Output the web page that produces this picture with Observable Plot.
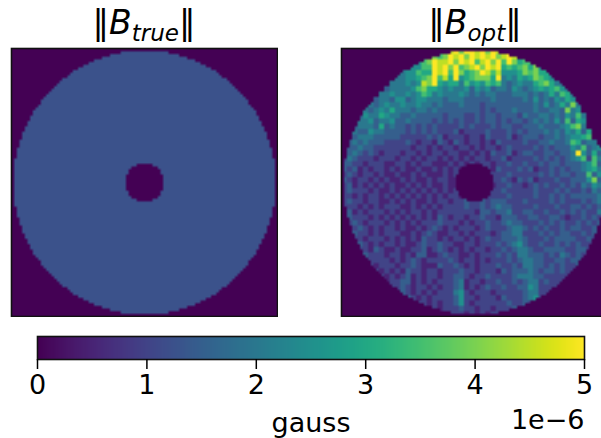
<!DOCTYPE html>
<html><head><meta charset="utf-8">
<script src="https://cdn.jsdelivr.net/npm/d3@7"></script>
<script src="https://cdn.jsdelivr.net/npm/@observablehq/plot@0.6"></script>
<style>
html,body{margin:0;padding:0;background:#fff}
#c{position:relative;width:601px;height:438px;overflow:hidden;font-family:"DejaVu Sans"}
#c>div{position:absolute}
#c svg{display:block;max-width:none}
.t{font-size:33px;line-height:36px;top:5px;width:260px;text-align:center;color:#000;white-space:nowrap}
.t sub{font-size:23px;font-style:italic;line-height:0;vertical-align:-7px}
</style></head><body><div id="c"></div>
<script>
// half-widths (grid cells) of the disc for the upper half of the 100-row image
const discHalfWidth=[0,9,13,16,19,21,23,25,27,28,29,31,32,33,34,35,36,37,38,39,39,40,41,42,42,43,43,44,44,45,45,46,46,46,47,47,47,48,48,48,48,49,49,49,49,49,49,49,49,49];
// half-widths of the central hole for the rows just above the middle (rows 43..49)
const holeHalfWidth=[3,5,6,6,7,7,7];
const trueLevel=1.25e-6;
const colorTicks=[0,1,2,3,4,5];
const levelStep=0.5e-6;
// |B_opt| read in 2x2 blocks of the image; digit = 0.5e-6 steps, a = 5e-6
const optRows=[
"0000000000 0000000000 9a8aa9a8a9 0000000000 0000000000",
"0000000000 0000006878 a9a8a9a9a8 9a97860000 0000000000",
"0000000000 0000578a99 a8a9a79a8a 7a86777000 0000000000",
"0000000000 0005577a9a 8a789a8a9a 6767868500 0000000000",
"0000000000 0455766a9a 7a8678a979 5556878660 0000000000",
"0000000000 4455678a79 6a5678886a 4546568765 0000000000",
"0000000004 4454598a65 6647565767 4345446786 4400000000",
"0000000034 4445786654 5445354534 4354345656 7540000000",
"0000000445 4454576454 4454343443 3344434346 4764000000",
"0000003443 5534554443 4443333343 3333435343 5465000000",
"0000043454 4544544343 3343332333 3333334353 4648400000",
"0000434546 4443443433 3333332323 3343334334 4384500000",
"0003544654 4334333332 3332232332 3332433443 4354740000",
"0004453445 3343333232 3232232332 3233234343 5373650000",
"0034443634 3323232322 2232322232 3322333433 3457840000",
"0043354433 3323232322 2312222322 2323233343 4354636000",
"0334443333 3222223231 2221221322 2312333233 4345567000",
"0343433322 2232122132 1321221213 2222322334 3347634400",
"0334332222 2221221212 2122121221 2322223232 3335473450",
"2343232122 2122121221 2211212132 2312332233 2334a53630",
"2432221222 1221212212 1212122122 3122223232 3234572740",
"3322122211 2212122111 2121212212 2322322323 3233345730",
"3231212212 1211211212 1211212213 2223231223 2323345640",
"2321221211 2112121112 1212122222 2322222323 2332337350",
"3212212121 1212112122 1100002222 3213231222 3223335830",
"2312121212 1121212112 1100002312 2322123232 2323243540",
"2322212112 1212121212 1200002222 3222223222 3232232430",
"2212122121 2121212121 2210013222 2322223223 2323333340",
"2322122112 1212112122 1223223233 3222322223 2322232340",
"2221212122 2112121212 2223223234 3322223222 3223323230",
"2312122212 1212212122 2222213323 3422332232 2323232240",
"2322212121 2121212132 1221223221 3332233223 3212232322",
"2232122212 1212122232 2212122322 3433222323 2322323232",
"2223212122 1211212321 2122212322 2344323232 2323322322",
"2232212122 2112123211 2212122212 3344222323 2332232322",
"2122122212 1212132212 1221212322 3334322232 3333223232",
"2123212122 1211232232 2112212223 2345322322 3232322322",
"2122213211 2112231232 1212122122 3234432233 3322332322",
"2212322212 2121331123 2211212223 2324433323 2432322322",
"2221222221 2123212222 3212212122 2323443322 3323323222",
"2222221222 1223211132 2321212223 2232443323 2322322322",
"2222222121 2132212212 2232212221 3233343233 2322322222",
"2222221212 1231212212 2332122322 2234443322 2222222222",
"2222222212 2331212122 2341221223 2232344232 2222222222",
"2222222212 2321221212 2341212322 3223354222 2222222222",
"2222222222 2321212122 2452122212 2222344222 2222222222",
"2222222222 2232121222 2352212221 3222345222 2222222222",
"2222222222 2212221212 2352122222 2322322222 2222222222",
"2222222222 2222122212 2232212212 2232222222 2222222222",
"2222222222 2222222221 2221212122 2222222222 2222222222"
].map(s=>s.replace(/ /g,""));

const n=100;
function inside(r,c){
  const u=r<50?r:99-r, hw=discHalfWidth[u];
  const x=c<50?50-c:c-49;           // 1..50 from the centre line
  if(x>hw) return false;
  if(u>=43 && x<=holeHalfWidth[u-43]) return false;
  return true;
}
const trueValues=[],optValues=[];
for(let r=0;r<n;r++)for(let c=0;c<n;c++){
  const ok=inside(r,c);
  trueValues.push(ok?trueLevel:0);
  const ch=optRows[r>>1][c>>1];
  optValues.push(ok?parseInt(ch,16)*levelStep:0);
}
const color={type:"linear",scheme:"viridis",domain:[0,5e-6]};
const font={fontFamily:"DejaVu Sans",background:"transparent",maxWidth:"none"};
function panel(values,left){
  const svg=Plot.plot({width:268,height:270,marginTop:1,marginBottom:1,marginLeft:1,marginRight:1,style:font,
    x:{domain:[0,n],axis:null},y:{domain:[0,n],reverse:true,axis:null},color,
    marks:[
      Plot.raster(values,{width:n,height:n,x1:0,y1:0,x2:n,y2:n,fill:d=>d}),
      Plot.frame({stroke:"#111",strokeWidth:1.6})
    ]});
  const d=document.createElement("div");d.style.left=left+"px";d.style.top="47px";d.style.width="268px";d.appendChild(svg);
  document.getElementById("c").appendChild(d);
}
panel(trueValues,10);
panel(optValues,340);
function title(sub,left){
  const d=document.createElement("div");d.className="t";d.style.left=left+"px";
  d.innerHTML="‖<i>B</i><sub>"+sub+"</sub>‖";document.getElementById("c").appendChild(d);
}
title("true",14);
title("opt",345);
const bar=Plot.plot({width:601,height:108,marginTop:6,marginBottom:79,marginLeft:37,marginRight:17,
  style:font,
  x:{domain:[0,5e-6],axis:null},y:{domain:[0,1],axis:null},color,
  marks:[
    Plot.raster({width:256,height:1,x1:0,y1:0,x2:5e-6,y2:1,fill:(x,y)=>x}),
    Plot.frame({stroke:"#111",strokeWidth:1.6}),
    Plot.axisX(colorTicks.map(d=>d*1e-6),{tickSize:10,strokeWidth:1.5,tickPadding:5,fontSize:27,color:"#000",
      label:null,tickFormat:d=>String(Math.round(d*1e6))}),
    Plot.text(["gauss"],{frameAnchor:"bottom",dy:64,fontSize:27,fill:"#000",lineAnchor:"middle",text:d=>d}),
    Plot.text(["1e−6"],{frameAnchor:"bottom-right",dy:61,fontSize:27,fill:"#000",lineAnchor:"middle",textAnchor:"end",text:d=>d})
  ]});
const bd=document.createElement("div");bd.style.left="0";bd.style.top="330px";bd.style.width="601px";bd.appendChild(bar);
document.getElementById("c").appendChild(bd);
</script></body></html>
